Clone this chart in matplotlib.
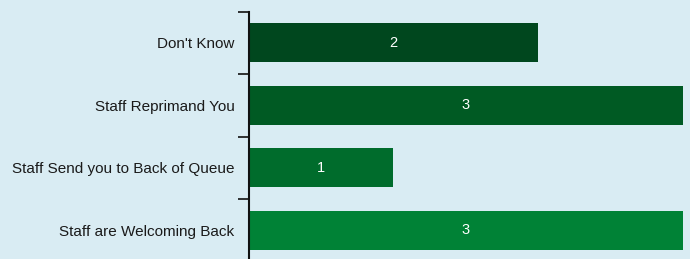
import matplotlib

matplotlib.use("Agg")
import matplotlib.pyplot as plt
import numpy as np

categories = ["Don't Know", "Staff Reprimand You", "Staff Send you to Back of Queue", "Staff are Welcoming Back"]
counts = [2, 3, 1, 3]
colors = ["#00471e", "#005a23", "#006c2c", "#008236"]

bg = "#d9ecf3"
plt.rcParams["font.family"] = ["Liberation Sans", "DejaVu Sans"]

fig = plt.figure(figsize=(6.9, 2.59), dpi=100, facecolor=bg)
ax = fig.add_axes([248.5 / 690, -2.5 / 259, (683 - 248.5) / 690, (250) / 259])
ax.set_facecolor(bg)

y = np.arange(len(categories))
ax.barh(y, counts, height=0.63, color=colors)
for yi, c in zip(y, counts):
    ax.text(c / 2, yi, str(c), color="white", ha="center", va="center", fontsize=10.5)

ax.set_xlim(0, 3)
ax.set_ylim(len(categories) - 0.5, -0.5)
ax.set_yticks(y)
ax.set_yticklabels(categories, fontsize=11, color="#1a1a1a")
ax.tick_params(axis="y", which="major", length=0, pad=10)
ax.set_yticks(np.arange(-0.5, len(categories), 1), minor=True)
ax.tick_params(axis="y", which="minor", length=8, width=1.2, color="#111111")
ax.set_xticks([])
for s in ["top", "right", "bottom"]:
    ax.spines[s].set_visible(False)
ax.spines["left"].set_linewidth(1.5)
ax.spines["left"].set_color("#111111")

fig.savefig("out.png", dpi=100, facecolor=bg)
